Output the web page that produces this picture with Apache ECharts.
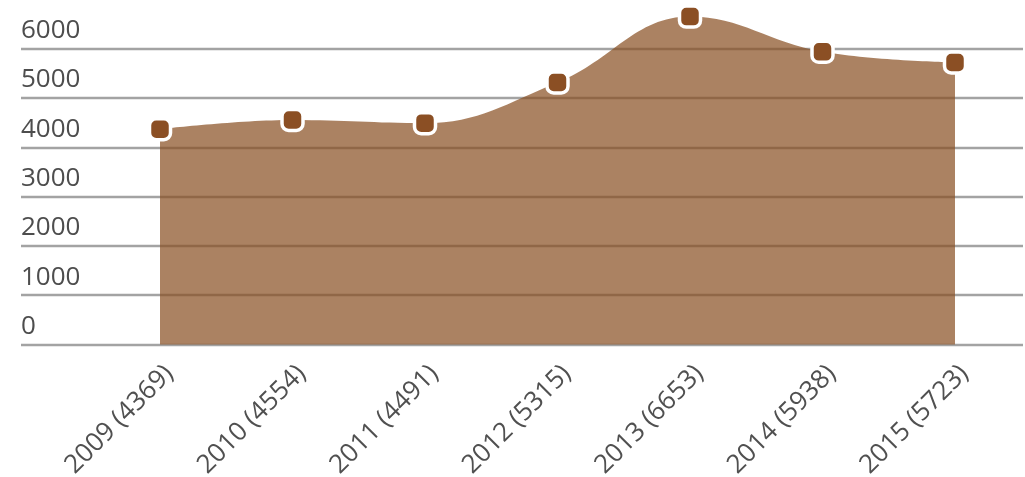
<!DOCTYPE html>
<html>
<head>
<meta charset="utf-8">
<script src="https://cdn.jsdelivr.net/npm/echarts@6/dist/echarts.min.js"></script>
<style>
    html, body { margin: 0; padding: 0; background: #fff; }
    #chart { width: 1025px; height: 477px; }
</style>
</head>
<body>
<div id="chart"></div>
<script>
// data
var years = ['2009', '2010', '2011', '2012', '2013', '2014', '2015'];
var values = [4369, 4554, 4491, 5315, 6653, 5938, 5723];
var yTicks = [0, 1000, 2000, 3000, 4000, 5000, 6000];

var categories = years.map(function (y, i) {
    return y + ' (' + values[i] + ')';
});

// rounded square marker
var markerPath = 'path://M32,0 H68 A32,32 0 0 1 100,32 V68 A32,32 0 0 1 68,100 H32 A32,32 0 0 1 0,68 V32 A32,32 0 0 1 32,0 Z';

var chart = echarts.init(document.getElementById('chart'));

var option = {
    animation: false,
    textStyle: { fontFamily: 'Open Sans' },
    grid: [
        // horizontal lines + y labels
        { left: 21, right: 2, top: 48.8, bottom: 132.5, containLabel: false, outerBoundsMode: 'none' },
        // area series
        { left: 160, right: 70, top: 48.8, bottom: 132.5, containLabel: false, outerBoundsMode: 'none' }
    ],
    xAxis: [
        { gridIndex: 0, type: 'value', show: false, min: 0, max: 1 },
        {
            gridIndex: 1,
            type: 'category',
            boundaryGap: false,
            data: categories,
            axisLine: { show: false },
            axisTick: { show: false },
            axisLabel: {
                rotate: 45,
                margin: 16,
                verticalAlign: 'top',
                fontSize: 26,
                color: '#505050',
                fontFamily: 'Open Sans'
            }
        }
    ],
    yAxis: [
        {
            gridIndex: 0,
            type: 'value',
            min: yTicks[0],
            max: yTicks[yTicks.length - 1],
            interval: 1000,
            axisLine: { show: false },
            axisTick: { show: false },
            splitLine: { lineStyle: { color: '#a3a3a3', width: 2.4 } },
            axisLabel: {
                inside: true,
                margin: 0,
                verticalAlign: 'bottom',
                padding: [0, 0, 5, 0],
                fontSize: 26,
                color: '#4d4d4d',
                fontFamily: 'Open Sans',
                formatter: function (v) { return String(v); }
            }
        },
        {
            gridIndex: 1,
            type: 'value',
            min: yTicks[0],
            max: yTicks[yTicks.length - 1],
            show: false
        }
    ],
    series: [
        {
            type: 'line',
            xAxisIndex: 1,
            yAxisIndex: 1,
            data: values,
            smooth: 0.4,
            clip: false,
            symbol: markerPath,
            symbolSize: 21,
            lineStyle: { width: 0 },
            itemStyle: {
                color: '#8b4f24',
                borderColor: '#ffffff',
                borderWidth: 3.5
            },
            areaStyle: { color: '#884d20', opacity: 0.7 },
            z: 3
        }
    ]
};

chart.setOption(option);
</script>
</body>
</html>
